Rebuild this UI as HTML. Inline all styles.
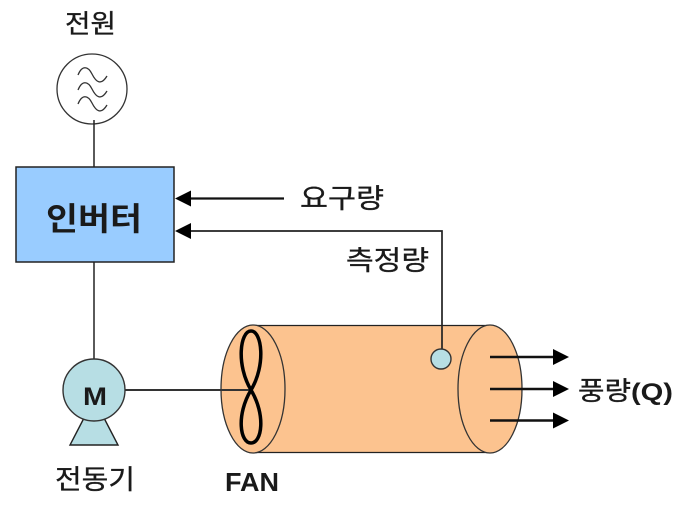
<!DOCTYPE html>
<html>
<head>
<meta charset="utf-8">
<style>
html,body{margin:0;padding:0;background:#fff;width:683px;height:510px;overflow:hidden}
svg{display:block}
text{font-family:"Liberation Sans","Noto Sans CJK KR",sans-serif;fill:#1a1a1a}
.m{stroke:#1a1a1a;stroke-width:.35px}
</style>
</head>
<body>
<svg width="683" height="510" viewBox="0 0 683 510" xmlns="http://www.w3.org/2000/svg">
  <!-- power -->
  <text class="m" x="65" y="33" font-size="26" textLength="51" lengthAdjust="spacingAndGlyphs">전원</text>
  <circle cx="92" cy="89" r="35" fill="#fff" stroke="#333" stroke-width="1.3"/>
  <g fill="none" stroke="#333" stroke-width="1.3">
    <path d="M78 75 C82 65 88 66 92 74 S101 86 107 76"/>
    <path d="M78 90 C82 80 88 81 92 89 S101 101 107 91"/>
    <path d="M78 104 C82 94 88 95 92 103 S101 115 107 105"/>
  </g>
  <line x1="94" y1="120" x2="94" y2="167" stroke="#222" stroke-width="1.500"/>

  <!-- inverter -->
  <rect x="16" y="167" width="158" height="95" fill="#99ccff" stroke="#222" stroke-width="1.500"/>
  <text x="46" y="230" font-size="32" font-weight="bold" textLength="96" lengthAdjust="spacingAndGlyphs" fill="#111">인버터</text>
  <line x1="94" y1="262" x2="94" y2="359" stroke="#222" stroke-width="1.500"/>

  <!-- motor -->
  <polygon points="70,445 118,445 104,418 84,418" fill="#b7dee4" stroke="#222" stroke-width="1.400"/>
  <circle cx="94" cy="390" r="31" fill="#b7dee4" stroke="#333" stroke-width="1.400"/>
  <text x="83" y="405" font-size="25" font-weight="bold" textLength="24" lengthAdjust="spacingAndGlyphs" fill="#17334a">M</text>
  <text class="m" x="55" y="489" font-size="27" textLength="80" lengthAdjust="spacingAndGlyphs">전동기</text>

  <!-- cylinder -->
  <path d="M253 325 H490 V453 H253 Z" fill="#fcc38f"/>
  <line x1="253" y1="325.500" x2="490" y2="325.500" stroke="#222" stroke-width="1.300"/>
  <line x1="253" y1="452.500" x2="490" y2="452.500" stroke="#222" stroke-width="1.300"/>
  <ellipse cx="253" cy="389" rx="32" ry="64" fill="#fcc38f" stroke="#333" stroke-width="1.300"/>
  <ellipse cx="490" cy="389" rx="32" ry="64" fill="#fcc38f" stroke="#333" stroke-width="1.300"/>

  <!-- shaft and fan -->
  <line x1="125" y1="390" x2="249" y2="390" stroke="#333" stroke-width="2"/>
  <path d="M251 390 C236 365 240 331 251 331 C262 331 266 365 251 390 C236 415 240 443 251 443 C262 443 266 415 251 390 Z" fill="none" stroke="#000" stroke-width="3.500"/>
  <text x="225" y="491" font-size="26" font-weight="bold" textLength="54" lengthAdjust="spacingAndGlyphs" fill="#111">FAN</text>

  <!-- signals -->
  <line x1="188" y1="198.500" x2="284" y2="198.500" stroke="#111" stroke-width="2.200"/>
  <polygon points="175,198.500 191,190.500 191,206.500" fill="#000"/>
  <text class="m" x="300" y="208" font-size="27" textLength="84" lengthAdjust="spacingAndGlyphs">요구량</text>
  <polyline points="188,231 442,231 442,349" fill="none" stroke="#222" stroke-width="1.700"/>
  <polygon points="175,231 191,223 191,239" fill="#000"/>
  <text class="m" x="346" y="270" font-size="27" textLength="83" lengthAdjust="spacingAndGlyphs">측정량</text>

  <!-- sensor -->
  <circle cx="441" cy="359" r="10" fill="#b7dee4" stroke="#333" stroke-width="1.400"/>

  <!-- outflow -->
  <g stroke="#111" stroke-width="2.400">
    <line x1="490" y1="357" x2="556" y2="357"/>
    <line x1="490" y1="389" x2="556" y2="389"/>
    <line x1="490" y1="420.500" x2="556" y2="420.500"/>
  </g>
  <g fill="#000">
    <polygon points="569,357 553,349 553,365"/>
    <polygon points="569,389 553,381 553,397"/>
    <polygon points="569,420.500 553,412.500 553,428.500"/>
  </g>
  <text class="m" x="578" y="400" font-size="26" textLength="53" lengthAdjust="spacingAndGlyphs">풍량</text>
  <text x="631" y="400" font-size="24" font-weight="bold" textLength="42" lengthAdjust="spacingAndGlyphs">(Q)</text>
</svg>
</body>
</html>
